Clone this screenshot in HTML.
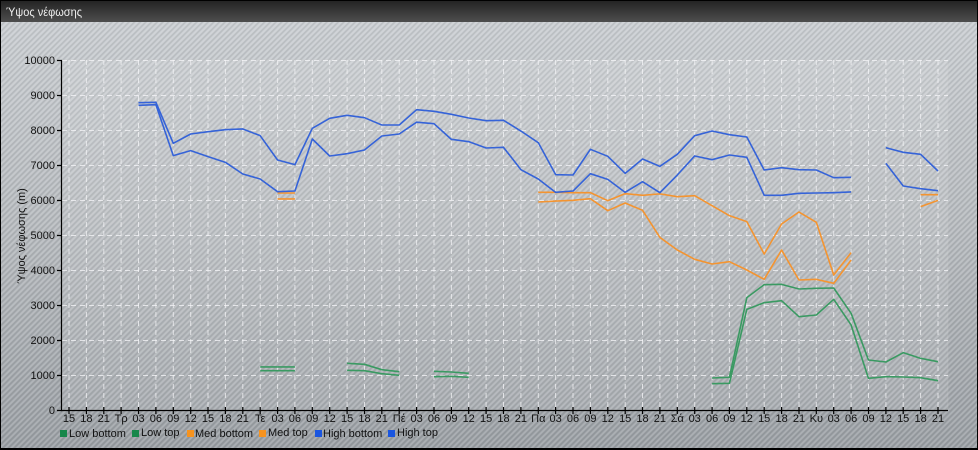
<!DOCTYPE html>
<html>
<head>
<meta charset="utf-8">
<style>
  html,body{margin:0;padding:0;}
  body{width:978px;height:450px;overflow:hidden;background:#000;}
  svg{display:block;}
  text{font-family:"Liberation Sans","DejaVu Sans",sans-serif;}
</style>
</head>
<body>
<svg width="978" height="450" viewBox="0 0 978 450" xmlns="http://www.w3.org/2000/svg">
  <defs>
    <linearGradient id="bg" x1="0" y1="0" x2="0" y2="1">
      <stop offset="0" stop-color="#c9cdd1"/>
      <stop offset="0.5" stop-color="#b5b9bd"/>
      <stop offset="1" stop-color="#9a9fa4"/>
    </linearGradient>
    <linearGradient id="title" x1="0" y1="0" x2="0" y2="1">
      <stop offset="0" stop-color="#242424"/>
      <stop offset="1" stop-color="#4e4e4e"/>
    </linearGradient>
    <pattern id="stripes" width="4" height="4" patternUnits="userSpaceOnUse" patternTransform="rotate(45)">
      <rect x="0" y="0" width="1.6" height="4" fill="rgba(255,255,255,0.16)"/>
      <rect x="2" y="0" width="1.4" height="4" fill="rgba(0,0,0,0.07)"/>
    </pattern>
  </defs>

  <!-- frame -->
  <rect x="0" y="0" width="978" height="450" fill="#000"/>
  <rect x="1" y="1" width="976" height="21" fill="url(#title)"/>
  <text x="6" y="16" font-size="12" fill="#f0f0f0" textLength="76" lengthAdjust="spacingAndGlyphs">Ύψος νέφωσης</text>
  <rect x="1" y="22" width="976" height="426" fill="url(#bg)"/>
  <rect x="1" y="22" width="976" height="426" fill="url(#stripes)"/>

  <!-- plot area -->
  <rect x="62" y="60" width="886" height="350" fill="rgba(255,255,255,0.10)" stroke="rgba(200,200,200,0.5)" stroke-width="0.5"/>

  <!-- grid -->
  <g stroke="rgba(245,246,248,0.75)" stroke-width="1" stroke-dasharray="5,4" fill="none">
    <path d="M62 375.5H948M62 340.5H948M62 305.5H948M62 270.5H948M62 235.5H948M62 200.5H948M62 165.5H948M62 130.5H948M62 95.5H948M62 60.5H948"/>
    <path d="M69 60V410M86.4 60V410M103.8 60V410M121.1 60V410M138.5 60V410M155.9 60V410M173.3 60V410M190.7 60V410M208 60V410M225.4 60V410M242.8 60V410M260.2 60V410M277.6 60V410M294.9 60V410M312.3 60V410M329.7 60V410M347.1 60V410M364.5 60V410M381.8 60V410M399.2 60V410M416.6 60V410M434 60V410M451.4 60V410M468.7 60V410M486.1 60V410M503.5 60V410M520.9 60V410M538.3 60V410M555.6 60V410M573 60V410M590.4 60V410M607.8 60V410M625.2 60V410M642.5 60V410M659.9 60V410M677.3 60V410M694.7 60V410M712.1 60V410M729.4 60V410M746.8 60V410M764.2 60V410M781.6 60V410M799 60V410M816.3 60V410M833.7 60V410M851.1 60V410M868.5 60V410M885.9 60V410M903.2 60V410M920.6 60V410M938 60V410"/>
  </g>

  <!-- axes -->
  <g stroke="#000" stroke-width="1.2" fill="none">
    <path d="M61.5 60V410.5H948"/>
    <path d="M57 410.5H62M57 375.5H62M57 340.5H62M57 305.5H62M57 270.5H62M57 235.5H62M57 200.5H62M57 165.5H62M57 130.5H62M57 95.5H62M57 60.5H62"/>
    <path d="M69 407V414M86.4 407V414M103.8 407V414M121.1 407V414M138.5 407V414M155.9 407V414M173.3 407V414M190.7 407V414M208 407V414M225.4 407V414M242.8 407V414M260.2 407V414M277.6 407V414M294.9 407V414M312.3 407V414M329.7 407V414M347.1 407V414M364.5 407V414M381.8 407V414M399.2 407V414M416.6 407V414M434 407V414M451.4 407V414M468.7 407V414M486.1 407V414M503.5 407V414M520.9 407V414M538.3 407V414M555.6 407V414M573 407V414M590.4 407V414M607.8 407V414M625.2 407V414M642.5 407V414M659.9 407V414M677.3 407V414M694.7 407V414M712.1 407V414M729.4 407V414M746.8 407V414M764.2 407V414M781.6 407V414M799 407V414M816.3 407V414M833.7 407V414M851.1 407V414M868.5 407V414M885.9 407V414M903.2 407V414M920.6 407V414M938 407V414"/>
  </g>

  <!-- y labels -->
  <g font-size="11" fill="#111" text-anchor="end">
    <text x="55" y="414">0</text>
    <text x="55" y="379">1000</text>
    <text x="55" y="344">2000</text>
    <text x="55" y="309">3000</text>
    <text x="55" y="274">4000</text>
    <text x="55" y="239">5000</text>
    <text x="55" y="204">6000</text>
    <text x="55" y="169">7000</text>
    <text x="55" y="134">8000</text>
    <text x="55" y="99">9000</text>
    <text x="55" y="64">10000</text>
  </g>
  <text transform="translate(25,236) rotate(-90)" font-size="11" fill="#111" text-anchor="middle">Ύψος νέφωσης (m)</text>

  <!-- x labels -->
  <g font-size="11" fill="#111" text-anchor="middle">
    <text x="69" y="422">15</text><text x="86.4" y="422">18</text><text x="103.8" y="422">21</text><text x="121.1" y="422">Τρ</text>
    <text x="138.5" y="422">03</text><text x="155.9" y="422">06</text><text x="173.3" y="422">09</text><text x="190.7" y="422">12</text>
    <text x="208" y="422">15</text><text x="225.4" y="422">18</text><text x="242.8" y="422">21</text><text x="260.2" y="422">Τε</text>
    <text x="277.6" y="422">03</text><text x="294.9" y="422">06</text><text x="312.3" y="422">09</text><text x="329.7" y="422">12</text>
    <text x="347.1" y="422">15</text><text x="364.5" y="422">18</text><text x="381.8" y="422">21</text><text x="399.2" y="422">Πέ</text>
    <text x="416.6" y="422">03</text><text x="434" y="422">06</text><text x="451.4" y="422">09</text><text x="468.7" y="422">12</text>
    <text x="486.1" y="422">15</text><text x="503.5" y="422">18</text><text x="520.9" y="422">21</text><text x="538.3" y="422">Πα</text>
    <text x="555.6" y="422">03</text><text x="573" y="422">06</text><text x="590.4" y="422">09</text><text x="607.8" y="422">12</text>
    <text x="625.2" y="422">15</text><text x="642.5" y="422">18</text><text x="659.9" y="422">21</text><text x="677.3" y="422">Σά</text>
    <text x="694.7" y="422">03</text><text x="712.1" y="422">06</text><text x="729.4" y="422">09</text><text x="746.8" y="422">12</text>
    <text x="764.2" y="422">15</text><text x="781.6" y="422">18</text><text x="799" y="422">21</text><text x="816.3" y="422">Κυ</text>
    <text x="833.7" y="422">03</text><text x="851.1" y="422">06</text><text x="868.5" y="422">09</text><text x="885.9" y="422">12</text>
    <text x="903.2" y="422">15</text><text x="920.6" y="422">18</text><text x="938" y="422">21</text>
  </g>

  <!-- series -->
  <g transform="translate(69,410) scale(17.38,-0.035)" fill="none" stroke-linejoin="round">
    <g stroke="#3a9a62" stroke-width="1.6">
      <polyline vector-effect="non-scaling-stroke" points="11,1229 12,1229 13,1229"/>
      <polyline vector-effect="non-scaling-stroke" points="16,1333 17,1305 18,1152 19,1095"/>
      <polyline vector-effect="non-scaling-stroke" points="21,1105 22,1086 23,1048"/>
      <polyline vector-effect="non-scaling-stroke" points="37,914 38,933 39,3210 40,3581 41,3590 42,3457 43,3476 44,3486 45,2762 46,1429 47,1371 48,1638 49,1476 50,1381"/>
      <polyline vector-effect="non-scaling-stroke" points="11,1124 12,1124 13,1124"/>
      <polyline vector-effect="non-scaling-stroke" points="16,1133 17,1124 18,1038 19,990"/>
      <polyline vector-effect="non-scaling-stroke" points="21,952 22,962 23,933"/>
      <polyline vector-effect="non-scaling-stroke" points="37,752 38,762 39,2876 40,3067 41,3124 42,2667 43,2714 44,3162 45,2429 46,905 47,952 48,943 49,924 50,838"/>
    </g>
    <g stroke="#f49430" stroke-width="1.6">
      <polyline vector-effect="non-scaling-stroke" points="12,6200 13,6200"/>
      <polyline vector-effect="non-scaling-stroke" points="27,6219 28,6219 29,6210 30,6210 31,5981 32,6181 33,6133 34,6175 35,6095 36,6124 37,5838 38,5552 39,5381 40,4457 41,5314 42,5657 43,5362 44,3857 45,4495"/>
      <polyline vector-effect="non-scaling-stroke" points="49,6152 50,6152"/>
      <polyline vector-effect="non-scaling-stroke" points="12,6029 13,6029"/>
      <polyline vector-effect="non-scaling-stroke" points="27,5943 28,5971 29,5990 30,6038 31,5695 32,5914 33,5705 34,4930 35,4571 36,4305 37,4171 38,4238 39,4000 40,3733 41,4571 42,3714 43,3733 44,3619 45,4286"/>
      <polyline vector-effect="non-scaling-stroke" points="49,5810 50,5990"/>
    </g>
    <g stroke="#3563d8" stroke-width="1.6">
      <polyline vector-effect="non-scaling-stroke" points="4,8780 5,8790 6,7619 7,7886 8,7952 9,8010 10,8029 11,7838 12,7143 13,7010 14,8048 15,8333 16,8419 17,8352 18,8143 19,8143 20,8580 21,8533 22,8448 23,8343 24,8267 25,8276 26,7971 27,7638 28,6724 29,6714 30,7448 31,7248 32,6762 33,7171 34,6962 35,7305 36,7838 37,7971 38,7867 39,7800 40,6857 41,6924 42,6867 43,6857 44,6638 45,6648"/>
      <polyline vector-effect="non-scaling-stroke" points="47,7495 48,7362 49,7305 50,6829"/>
      <polyline vector-effect="non-scaling-stroke" points="4,8705 5,8723 6,7267 7,7410 8,7238 9,7076 10,6743 11,6600 12,6238 13,6257 14,7743 15,7257 16,7324 17,7429 18,7829 19,7886 20,8224 21,8181 22,7733 23,7667 24,7486 25,7505 26,6867 27,6600 28,6219 29,6257 30,6752 31,6590 32,6219 33,6524 34,6210 35,6714 36,7258 37,7152 38,7286 39,7219 40,6133 41,6133 42,6190 43,6200 44,6210 45,6229"/>
      <polyline vector-effect="non-scaling-stroke" points="47,7048 48,6400 49,6324 50,6267"/>
    </g>
  </g>

  <!-- legend -->
  <g font-size="11" fill="#111">
    <rect x="60" y="430" width="7" height="7" fill="#17874a"/><text x="69" y="437">Low bottom</text>
    <rect x="132" y="430" width="7" height="7" fill="#17874a"/><text x="141" y="436">Low top</text>
    <rect x="187" y="430" width="7" height="7" fill="#f7931e"/><text x="195" y="437">Med bottom</text>
    <rect x="259" y="430" width="7" height="7" fill="#f7931e"/><text x="268" y="436">Med top</text>
    <rect x="315" y="430" width="7" height="7" fill="#1a56e0"/><text x="323" y="437">High bottom</text>
    <rect x="388" y="430" width="7" height="7" fill="#1a56e0"/><text x="397" y="436">High top</text>
  </g>
</svg>
</body>
</html>
